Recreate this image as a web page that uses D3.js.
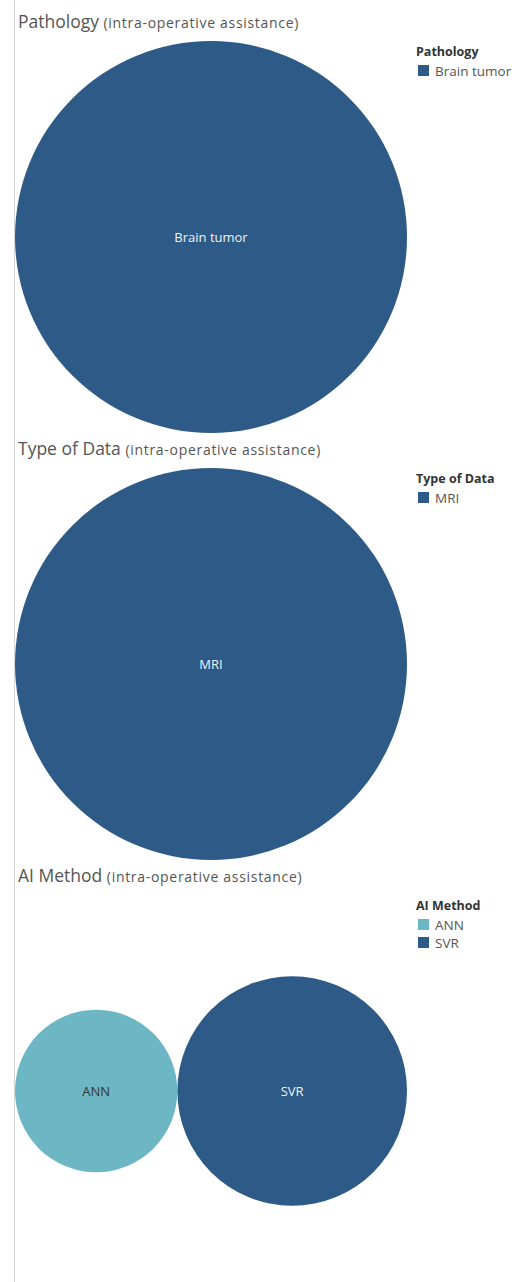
<!DOCTYPE html>
<html>
<head>
<meta charset="utf-8">
<script src="https://cdn.jsdelivr.net/npm/d3@7"></script>
<style>
  body { margin: 0; background: #fff; }
  svg { display: block; font-family: "Open Sans", sans-serif; }
</style>
</head>
<body>
<div id="chart"></div>
<script>
var width = 515
var height = 1282

// data
var pathologyNames = ['Brain tumor']
var pathologyCounts = [3]
var dataTypeNames = ['MRI']
var dataTypeCounts = [3]
var methodNames = ['ANN', 'SVR']
var methodCounts = [1, 2]

var sections = [
  { title: 'Pathology', names: pathologyNames, counts: pathologyCounts },
  { title: 'Type of Data', names: dataTypeNames, counts: dataTypeCounts },
  { title: 'AI Method', names: methodNames, counts: methodCounts }
]

var color = d3.scaleOrdinal()
  .domain(['ANN', 'SVR', 'Brain tumor', 'MRI'])
  .range(['#6db6c3', '#2d5a86', '#2d5a86', '#2d5a86'])

var svg = d3.select('#chart').append('svg')
  .attr('width', width).attr('height', height)

// left rule
svg.append('line')
  .attr('x1', 14.5).attr('x2', 14.5)
  .attr('y1', 0).attr('y2', height)
  .attr('stroke', '#d4d4d4').attr('stroke-width', 1)

var paneLeft = 15, paneRight = 407
var paneH = 392
var step = 427

sections.forEach((s, k) => {
  var top = k * step
  var g = svg.append('g')

  var t = g.append('text')
    .attr('x', 18).attr('y', top + 28)
    .attr('fill', '#555')
  t.append('tspan').attr('font-size', 17.5).text(s.title + ' ')
  t.append('tspan').attr('font-size', 14).attr('letter-spacing', 0.7).text('(intra-operative assistance)')

  // bubble layout: radius ~ sqrt(count), packed then fit into pane
  var r = d3.scaleSqrt().domain([0, d3.max(s.counts)]).range([0, 1])
  var nodes = s.counts.map((c, i) => ({ r: r(c), name: s.names[i] }))
  d3.packSiblings(nodes)
  var x0 = d3.min(nodes, d => d.x - d.r), x1 = d3.max(nodes, d => d.x + d.r)
  var y0 = d3.min(nodes, d => d.y - d.r), y1 = d3.max(nodes, d => d.y + d.r)
  var scale = Math.min((paneRight - paneLeft) / (x1 - x0), paneH / (y1 - y0))
  var cx = (paneLeft + paneRight) / 2
  var cy = top + 41 + paneH / 2
  var sx = d3.scaleLinear().domain([(x0 + x1) / 2 - 1, (x0 + x1) / 2 + 1]).range([cx - scale, cx + scale])
  var sy = d3.scaleLinear().domain([(y0 + y1) / 2 - 1, (y0 + y1) / 2 + 1]).range([cy - scale, cy + scale])

  var bubble = g.selectAll('g.bubble').data(nodes).enter().append('g')
    .attr('class', 'bubble')
  bubble.append('circle')
    .attr('cx', d => sx(d.x)).attr('cy', d => sy(d.y))
    .attr('r', d => d.r * scale)
    .attr('fill', d => color(d.name))
  bubble.append('text')
    .attr('x', d => sx(d.x)).attr('y', d => sy(d.y) + 4.5)
    .attr('text-anchor', 'middle')
    .attr('font-size', 13)
    .attr('fill', d => d.name === 'ANN' ? '#333' : '#eef2f6')
    .text(d => d.name)

  // legend
  var lg = g.append('g').attr('transform', `translate(416, ${top})`)
  lg.append('text')
    .attr('x', 0).attr('y', 56)
    .attr('font-size', 12.5).attr('font-weight', 'bold')
    .attr('fill', '#333')
    .text(s.title)
  var item = lg.selectAll('g.item').data(s.names).enter().append('g')
    .attr('transform', (d, i) => `translate(0, ${i * 18})`)
  item.append('rect')
    .attr('x', 2).attr('y', 65).attr('width', 11).attr('height', 11)
    .attr('fill', d => color(d))
  item.append('text')
    .attr('x', 19).attr('y', 76)
    .attr('font-size', 13.5).attr('fill', '#555')
    .text(d => d)
})
</script>
</body>
</html>
